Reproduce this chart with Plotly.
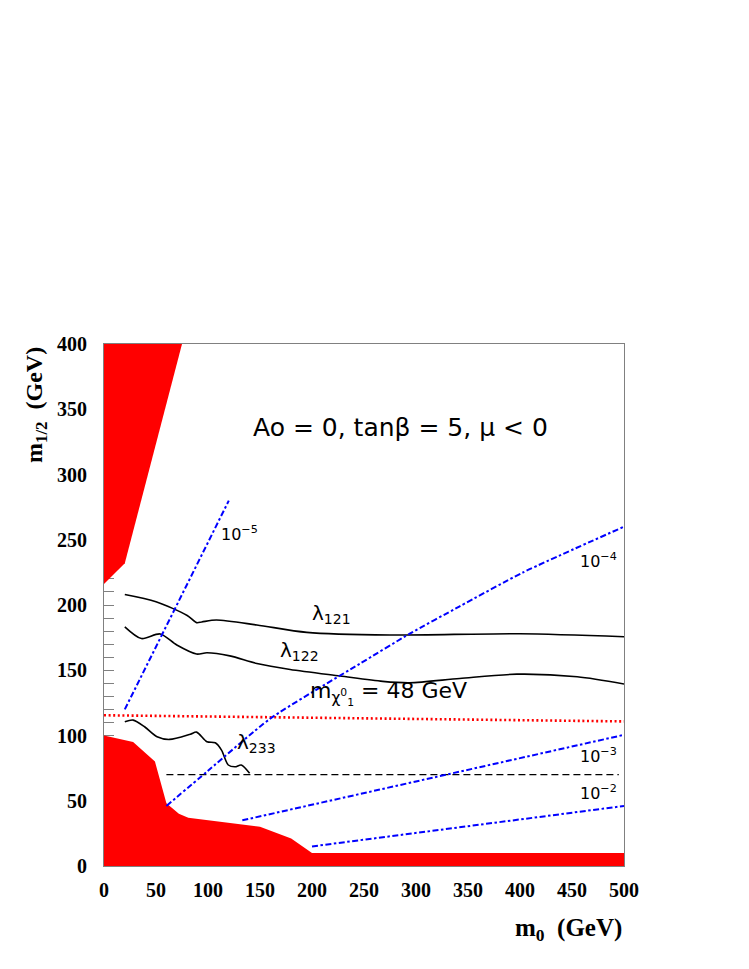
import plotly.graph_objects as go

# ---- data ----
# excluded (red) regions
red_top_x = [0, 75, 20, 10, 0]
red_top_y = [400, 400, 232, 224, 216]
red_low_x = [0, 0, 28, 49, 60, 72, 81, 150, 180, 200, 500, 500]
red_low_y = [0, 100, 95, 80, 48, 40, 37, 30, 21, 10, 10, 0]

# lambda contours (black solid)
l121_x = [20, 50, 80, 89, 94, 108, 147, 195, 275, 400, 500]
l121_y = [208, 202.5, 192, 186.5, 187, 188.5, 184.7, 179, 177, 178, 175.7]
l122_x = [20, 36, 54, 70, 89, 99, 121, 147, 179, 227, 268, 294, 342, 397, 455, 500]
l122_y = [183.3, 174.3, 177.8, 169.3, 162.4, 163.4, 161, 155.2, 150.6, 145.6, 141.5, 140.4, 143.7, 147, 145, 139.5]
l233_x = [20, 28, 39, 51, 63, 83, 89, 99, 107, 113, 119.5, 126, 132, 140]
l233_y = [110.5, 111.8, 106.7, 99, 97, 101, 102.6, 95.2, 94.4, 88.8, 77.4, 76, 77.4, 71]

# horizontal lines
dash70_x = [60, 495]
dash70_y = [70, 70]
chi_x = [0, 500]
chi_y = [115.5, 110.8]

# blue dash-dot contours
c5_x = [20, 120]
c5_y = [120, 280]
c4_x = [60, 100, 160, 246, 294, 342, 403, 500]
c4_y = [46, 73, 113, 155, 178, 199, 225, 260]
c3_x = [133, 500]
c3_y = [35, 100.5]
c2_x = [200, 500]
c2_y = [15, 46]

x_ticks = list(range(0, 501, 50))
y_ticks = list(range(0, 401, 50))

red = "#ff0000"
blue = "#0000ff"
serif = "Liberation Serif"
sans = "DejaVu Sans"

fig = go.Figure()

for xs, ys in [(red_top_x, red_top_y), (red_low_x, red_low_y)]:
    fig.add_trace(go.Scatter(x=xs, y=ys, mode="lines", fill="toself",
                             fillcolor=red, line=dict(width=0, color=red),
                             hoverinfo="skip"))

for xs, ys in [(l121_x, l121_y), (l122_x, l122_y), (l233_x, l233_y)]:
    fig.add_trace(go.Scatter(x=xs, y=ys, mode="lines",
                             line=dict(color="black", width=1.6, shape="spline", smoothing=0.8)))

fig.add_trace(go.Scatter(x=dash70_x, y=dash70_y, mode="lines",
                         line=dict(color="black", width=1.3, dash="7px,4px")))
fig.add_trace(go.Scatter(x=chi_x, y=chi_y, mode="lines",
                         line=dict(color=red, width=2.6, dash="2px,2.6px")))

for xs, ys in [(c5_x, c5_y), (c4_x, c4_y), (c3_x, c3_y), (c2_x, c2_y)]:
    fig.add_trace(go.Scatter(x=xs, y=ys, mode="lines",
                             line=dict(color=blue, width=2, dash="6px,2.5px,2.5px,2.5px",
                                       shape="spline", smoothing=0.6)))

# labels
def note(text, x, y, size, xanchor="center"):
    fig.add_annotation(text=text, x=x, y=y, xref="x", yref="y", showarrow=False,
                       xanchor=xanchor, yanchor="middle",
                       font=dict(family=sans, size=size, color="black"))

note("10<sup>−5</sup>", 111, 255, 16, "left")
note("10<sup>−4</sup>", 475, 234, 16)
note("10<sup>−3</sup>", 475, 85, 16)
note("10<sup>−2</sup>", 475, 56, 16)
note("λ<sub>121</sub>", 219, 193, 20)
note("λ<sub>122</sub>", 188, 165, 20)
note("λ<sub>233</sub>", 147, 94, 20)
note("m<sub>χ<sup>0</sup><sub>1</sub></sub> = 48 GeV", 274, 132, 22)
note("Ao = 0, tanβ = 5, μ < 0", 285, 336, 25)

fig.add_annotation(text="<b>m<sub>1/2</sub>  (GeV)</b>", x=-0.131, y=0.883,
                   xref="paper", yref="paper", showarrow=False, textangle=-90,
                   xanchor="center", yanchor="middle",
                   font=dict(family=serif, size=24, color="black"))
fig.add_annotation(text="<b>m<sub>0</sub>  (GeV)</b>", x=1.0, y=-0.121,
                   xref="paper", yref="paper", showarrow=False,
                   xanchor="right", yanchor="middle",
                   font=dict(family=serif, size=25, color="black"))

axis_common = dict(showgrid=False, zeroline=False, showline=True, mirror=True,
                   linecolor="#808080", linewidth=1, ticks="inside", ticklen=10,
                   tickcolor="#808080", layer="below traces", automargin=False,
                   tickfont=dict(family=serif, size=20, color="black", weight="bold"))

fig.update_xaxes(range=[0, 500], tickvals=x_ticks, ticklabelstandoff=6,
                 minor=dict(dtick=10, ticks="inside", ticklen=10, tickcolor="#808080"),
                 **axis_common)
fig.update_yaxes(range=[0, 400], tickvals=y_ticks, ticklabelstandoff=12,
                 minor=dict(dtick=10, ticks="inside", ticklen=10, tickcolor="#808080"),
                 **axis_common)

# the page body adds an 8px offset, so the figure is shrunk to keep the plot in place
fig.update_layout(width=741, height=961, showlegend=False,
                  margin=dict(l=96, r=125, t=336, b=103),
                  plot_bgcolor="white", paper_bgcolor="white")

fig.write_html("out.html")
